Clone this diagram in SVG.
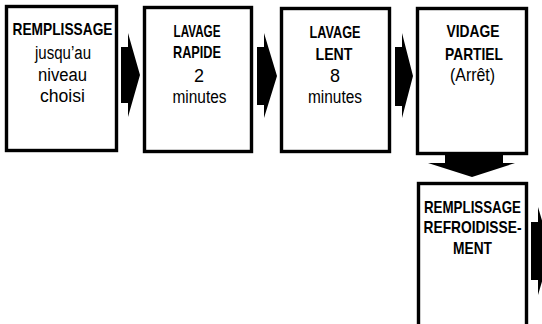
<svg xmlns="http://www.w3.org/2000/svg" width="542" height="324" viewBox="0 0 542 324">
<style>
.box{fill:#fff;stroke:#000;stroke-width:3.4}
.h{font-family:"Liberation Sans",Arial,sans-serif;font-weight:bold;font-size:17px;fill:#000;text-anchor:middle}
.t{font-family:"Liberation Sans",Arial,sans-serif;font-size:18px;fill:#000;text-anchor:middle}
.arr{fill:#000;stroke:none}
</style>
<rect width="542" height="324" fill="#fff"/>
<g id="n1">
<rect class="box" x="6.5" y="6.5" width="110" height="144"/>
<text class="h" x="62.5" y="35" textLength="100" lengthAdjust="spacingAndGlyphs">REMPLISSAGE</text>
<text class="t" x="63" y="59" textLength="56" lengthAdjust="spacingAndGlyphs">jusqu’au</text>
<text class="t" x="62.5" y="81" textLength="49" lengthAdjust="spacingAndGlyphs">niveau</text>
<text class="t" x="62.5" y="102" textLength="45" lengthAdjust="spacingAndGlyphs">choisi</text>
</g>
<g id="n2">
<rect class="box" x="144.5" y="7.5" width="107" height="144"/>
<text class="h" x="197" y="37" textLength="47" lengthAdjust="spacingAndGlyphs">LAVAGE</text>
<text class="h" x="197" y="58" textLength="48" lengthAdjust="spacingAndGlyphs">RAPIDE</text>
<text class="t" x="199" y="82">2</text>
<text class="t" x="199.5" y="103" textLength="54" lengthAdjust="spacingAndGlyphs">minutes</text>
</g>
<g id="n3">
<rect class="box" x="281.5" y="8.5" width="108" height="143"/>
<text class="h" x="335" y="38" textLength="51" lengthAdjust="spacingAndGlyphs">LAVAGE</text>
<text class="h" x="334" y="60" textLength="37" lengthAdjust="spacingAndGlyphs">LENT</text>
<text class="t" x="335" y="82">8</text>
<text class="t" x="335" y="103" textLength="54" lengthAdjust="spacingAndGlyphs">minutes</text>
</g>
<g id="n4">
<rect class="box" x="417.5" y="8.5" width="109" height="145"/>
<text class="h" x="473" y="37" textLength="53" lengthAdjust="spacingAndGlyphs">VIDAGE</text>
<text class="h" x="474" y="60" textLength="58" lengthAdjust="spacingAndGlyphs">PARTIEL</text>
<text class="t" x="472.5" y="81" textLength="45" lengthAdjust="spacingAndGlyphs">(Arrêt)</text>
</g>
<g id="n5">
<rect class="box" x="418.5" y="183.5" width="108" height="150"/>
<text class="h" x="472.5" y="213" textLength="97" lengthAdjust="spacingAndGlyphs">REMPLISSAGE</text>
<text class="h" x="472.5" y="233" textLength="98" lengthAdjust="spacingAndGlyphs">REFROIDISSE-</text>
<text class="h" x="472.5" y="254" textLength="39" lengthAdjust="spacingAndGlyphs">MENT</text>
</g>
<g id="connectors">
<polygon class="arr" points="121,47 128,47 128,33 140,75 128,117 128,103 121,103"/>
<polygon class="arr" points="257,47 264,47 264,33 277,76 264,118 264,105 257,105"/>
<polygon class="arr" points="395,47 402,47 402,33 413,76 402,118 402,106 395,106"/>
<polygon class="arr" points="445,154 503,154 503,163 515,163 472,177 428,163 445,163"/>
<polygon class="arr" points="531,222 538,222 538,207 551,251 538,295 538,280 531,280"/>
</g>
</svg>
